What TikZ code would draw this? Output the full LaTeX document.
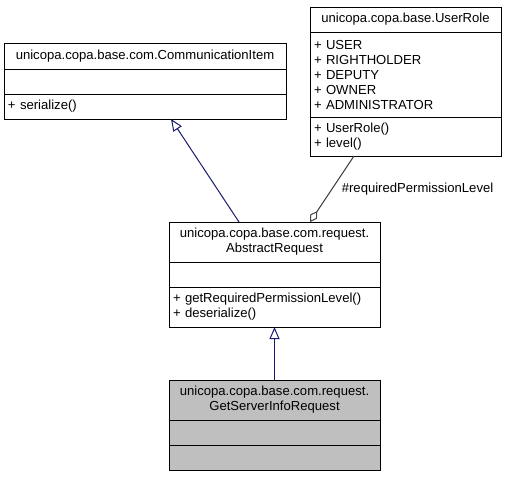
\documentclass[tikz,border=0pt]{standalone}
\usepackage{fontspec}
\setmainfont{Liberation Sans}
\usetikzlibrary{arrows.meta,positioning}
\definecolor{inheritblue}{HTML}{191970}
\definecolor{aggrgray}{HTML}{404040}
\definecolor{focusgray}{HTML}{BFBFBF}

\begin{document}
\begin{tikzpicture}[x=1pt,y=-1pt,line width=1pt,
  class title/.style={draw,anchor=north west,outer sep=0pt,inner xsep=4pt,inner ysep=0pt,align=center,font=\fontsize{13.1}{15}\selectfont},
  class part/.style={draw,anchor=north west,outer sep=0pt,inner xsep=4pt,inner ysep=0pt,align=left,font=\fontsize{13.1}{15}\selectfont},
  inherit edge/.style={draw=inheritblue,-{Triangle[open,length=12pt,width=10pt]}},
  aggr edge/.style={draw=aggrgray,-{Diamond[open,length=13pt,width=8pt]}}]

\useasboundingbox (0,0) rectangle (505,477);

% CommunicationItem
\node[class title,text width=274pt,minimum width=282pt,minimum height=26pt] (commitem) at (4,43) {unicopa.copa.base.com.CommunicationItem};
\node[class part,text width=274pt,minimum width=282pt,minimum height=25pt] (commattr) at (commitem.south west) {};
\node[class part,text width=274pt,minimum width=282pt,minimum height=25pt] (commops) at (commattr.south west) {+ serialize()};

% UserRole
\node[class title,text width=183pt,minimum width=191pt,minimum height=25pt] (userrole) at (310,7) {unicopa.copa.base.UserRole};
\node[class part,text width=183pt,minimum width=191pt,minimum height=85pt] (roleattr) at (userrole.south west) {+ USER\\+ RIGHTHOLDER\\+ DEPUTY\\+ OWNER\\+ ADMINISTRATOR};
\node[class part,text width=183pt,minimum width=191pt,minimum height=39pt] (roleops) at (roleattr.south west) {+ UserRole()\\+ level()};

% AbstractRequest
\node[class title,text width=203pt,minimum width=211pt,minimum height=40pt] (absreq) at (169,222) {unicopa.copa.base.com.request.\\AbstractRequest};
\node[class part,text width=203pt,minimum width=211pt,minimum height=25pt] (absattr) at (absreq.south west) {};
\node[class part,text width=203pt,minimum width=211pt,minimum height=40pt] (absops) at (absattr.south west) {+ getRequiredPermissionLevel()\\+ deserialize()};

% GetServerInfoRequest
\node[class title,fill=focusgray,text width=203pt,minimum width=211pt,minimum height=40pt] (getinfo) at (169,380) {unicopa.copa.base.com.request.\\GetServerInfoRequest};
\node[class part,fill=focusgray,text width=203pt,minimum width=211pt,minimum height=25pt] (getattr) at (getinfo.south west) {};
\node[class part,fill=focusgray,text width=203pt,minimum width=211pt,minimum height=25pt] (getops) at (getattr.south west) {};

% Inheritance
\draw[inherit edge] ([xshift=-35.5pt]absreq.north) -- ([xshift=26pt]commops.south);
\draw[inherit edge] (getinfo.north) -- (absops.south);

% Aggregation
\draw[aggr edge] ([xshift=-51.5pt]roleops.south) -- node[right,xshift=6pt,font=\fontsize{13.1}{15}\selectfont] {\#requiredPermissionLevel} ([xshift=35.5pt]absreq.north);

\end{tikzpicture}
\end{document}
